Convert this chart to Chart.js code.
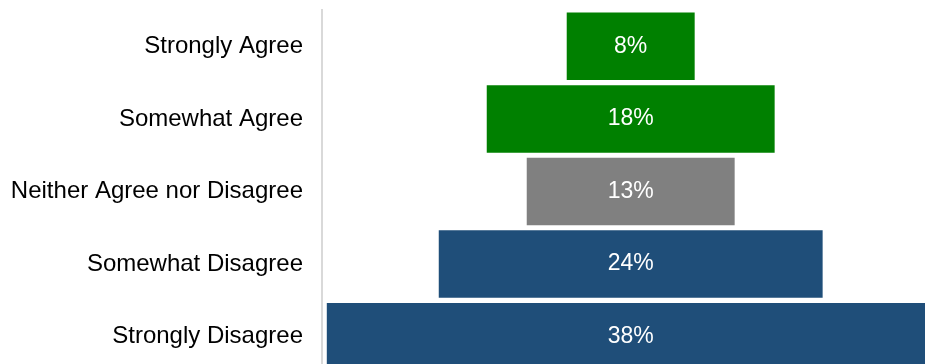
<!DOCTYPE html>
<html lang="en">
<head>
    <meta charset="UTF-8">
    <title>Agreement Funnel</title>
    <script src="https://cdn.jsdelivr.net/npm/chart.js@4.4.0/dist/chart.umd.min.js"></script>
    <style>
        html, body { margin: 0; padding: 0; background: #ffffff; overflow: hidden; }
        #wrap { position: relative; width: 925px; height: 373px; }
    </style>
</head>
<body>
    <div id="wrap"><canvas id="funnelChart"></canvas></div>

    <script>
        // Chart data
        const categories = ['Strongly Agree', 'Somewhat Agree', 'Neither Agree nor Disagree', 'Somewhat Disagree', 'Strongly Disagree'];
        const percents = [8, 18, 13, 24, 38];
        const barColors = ['#008000', '#008000', '#808080', '#1f4e79', '#1f4e79'];

        // centered floating bars, so each row sits on the middle of the axis
        const ranges = percents.map(v => [-v / 2, v / 2]);

        // draws the percent in the middle of each bar
        const centerLabels = {
            id: 'centerLabels',
            afterDatasetsDraw(chart) {
                const ctx = chart.ctx;
                const meta = chart.getDatasetMeta(0);
                ctx.save();
                ctx.fillStyle = '#ffffff';
                ctx.font = '23px "Liberation Sans", Arial, sans-serif';
                ctx.textAlign = 'center';
                ctx.textBaseline = 'middle';
                meta.data.forEach((bar, i) => {
                    const x = chart.scales.x.getPixelForValue(0);
                    ctx.fillText(percents[i] + '%', x, bar.y);
                });
                ctx.restore();
            }
        };

        new Chart(document.getElementById('funnelChart'), {
            type: 'bar',
            data: {
                labels: categories,
                datasets: [{
                    data: ranges,
                    backgroundColor: barColors,
                    borderWidth: 0,
                    barPercentage: 0.93,
                    categoryPercentage: 1.0
                }]
            },
            options: {
                indexAxis: 'y',
                responsive: true,
                maintainAspectRatio: false,
                animation: false,
                layout: { padding: { top: 10, bottom: 0, left: 0, right: 0 } },
                scales: {
                    x: {
                        display: false,
                        min: -19.3,   // funnel centre sits a bit right of the middle
                        max: 18.4
                    },
                    y: {
                        afterFit: (scale) => {
                            scale.width = 322;
                            // no extra room for half label heights
                            scale.paddingTop = 0;
                            scale.paddingBottom = 0;
                        },
                        grid: { display: false, drawTicks: false },
                        border: { display: true, color: '#d9d9d9', width: 2 },
                        ticks: {
                            padding: 19,
                            color: '#000000',
                            font: { family: '"Liberation Sans", Arial, sans-serif', size: 24 }
                        }
                    }
                },
                plugins: {
                    legend: { display: false },
                    tooltip: { enabled: false }
                }
            },
            plugins: [centerLabels]
        });
    </script>
</body>
</html>
